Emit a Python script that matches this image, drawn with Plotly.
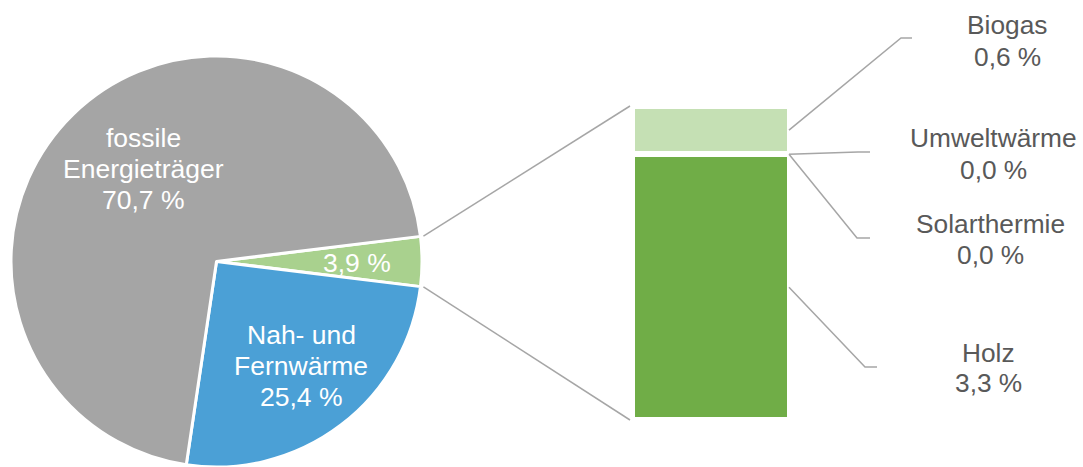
import math
import plotly.graph_objects as go

# ---- data -------------------------------------------------------------
pie_labels = ["erneuerbare Energien", "Nah- und Fernwärme", "fossile Energieträger"]
pie_values = [3.9, 25.4, 70.7]
pie_names = [[], ["Nah- und", "Fernwärme"], ["fossile", "Energieträger"]]

bar_labels = ["Holz", "Solarthermie", "Umweltwärme", "Biogas"]
bar_values = [3.3, 0.0, 0.0, 0.6]

# ---- styling ----------------------------------------------------------
W, H = 1083, 467
FONT = "Arial, Liberation Sans, sans-serif"
pie_colors = ["#A9D18E", "#4BA0D6", "#A5A5A5"]
bar_colors = ["#70AD47", "#FFC000", "#5B9BD5", "#C5E0B4"]
LINE = "#A6A6A6"
TEXT = "#595959"


def pct(v):
    return f"{v:.1f} %".replace(".", ",")


def px(x):
    return x / W


def py(y):
    return 1 - y / H


# pie placement (pixels)
cx, cy, r = 216.5, 261.5, 205.5
pie_dom_x = [px(cx - r), px(cx + r)]
pie_dom_y = [py(cy + r), py(cy - r)]

# bar placement (pixels)
bx0, bx1, by_top, by_bot = 632, 790, 106, 420
bar_dom_x = [px(bx0), px(bx1)]
bar_dom_y = [py(by_bot), py(by_top)]

# the first slice is centred on 3 o'clock
first_share = pie_values[0] / sum(pie_values) * 360
rotation = 90 - first_share / 2

fig = go.Figure()

fig.add_trace(go.Pie(
    labels=pie_labels, values=pie_values, sort=False, direction="clockwise",
    rotation=rotation, marker=dict(colors=pie_colors, line=dict(color="white", width=3)),
    textinfo="none", hoverinfo="skip", showlegend=False,
    domain=dict(x=pie_dom_x, y=pie_dom_y),
))

for name, val, col in zip(bar_labels, bar_values, bar_colors):
    fig.add_trace(go.Bar(
        x=[0], y=[val], width=1, name=name, showlegend=False, hoverinfo="skip",
        marker=dict(color=col, line=dict(color="white", width=6)),
    ))

total = sum(bar_values)


def bar_y_px(v):
    return by_bot - v / total * (by_bot - by_top)


shapes = []
line_style = dict(color=LINE, width=1.5)

# connectors from the small slice to the bar
for ang, ybar in [(rotation, by_top), (rotation + first_share, by_bot)]:
    a = math.radians(ang)
    sx = cx + (r + 3) * math.sin(a)
    sy = cy - (r + 3) * math.cos(a)
    shapes.append(dict(type="line", xref="paper", yref="paper",
                       x0=px(sx), y0=py(sy), x1=px(bx0 - 2), y1=py(ybar), line=line_style))

# leader lines: elbow and end point in pixels, label line centres
leaders = {
    "Holz": dict(elbow=(865, 367), end=(877, 367), lx=988, ly=(352.5, 383)),
    "Solarthermie": dict(elbow=(857, 238), end=(870, 238), lx=990.5, ly=(224, 255)),
    "Umweltwärme": dict(elbow=(858, 152), end=(870, 152), lx=993, ly=(138, 170)),
    "Biogas": dict(elbow=(901, 38), end=(912, 38), lx=1007, ly=(25, 57)),
}

annotations = []
cum = 0.0
for name, val in zip(bar_labels, bar_values):
    mid = cum + val / 2
    cum += val
    L = leaders[name]
    sy = bar_y_px(mid)
    pts = [(bx1 - 1, sy), L["elbow"], L["end"]]
    path = "M " + " L ".join(f"{px(x)},{py(y)}" for x, y in pts)
    shapes.append(dict(type="path", xref="paper", yref="paper", path=path, line=line_style))
    for t, yy in zip([name, pct(val)], L["ly"]):
        annotations.append(dict(
            text=t, x=px(L["lx"]), y=py(yy), xref="paper", yref="paper",
            xanchor="center", yanchor="middle", showarrow=False,
            font=dict(family=FONT, size=26.3, color=TEXT),
        ))

# slice labels: centre x and the centre y of each text line
pie_label_pos = [(356.5, [263]), (301, [335, 366, 396.5]), (143, [137.5, 168.5, 199.5])]
for names, val, (x, ys) in zip(pie_names, pie_values, pie_label_pos):
    for t, yy in zip(names + [pct(val)], ys):
        annotations.append(dict(
            text=t, x=px(x), y=py(yy), xref="paper", yref="paper",
            xanchor="center", yanchor="middle", showarrow=False,
            font=dict(family=FONT, size=26.5, color="white"),
        ))

fig.update_layout(
    width=W, height=H, margin=dict(l=0, r=0, t=0, b=0),
    paper_bgcolor="white", plot_bgcolor="white",
    barmode="stack", bargap=0,
    xaxis=dict(domain=bar_dom_x, range=[-0.5, 0.5], visible=False, fixedrange=True),
    yaxis=dict(domain=bar_dom_y, range=[0, total], visible=False, fixedrange=True),
    shapes=shapes, annotations=annotations,
)

fig.write_html("out.html", config=dict(displayModeBar=False))
